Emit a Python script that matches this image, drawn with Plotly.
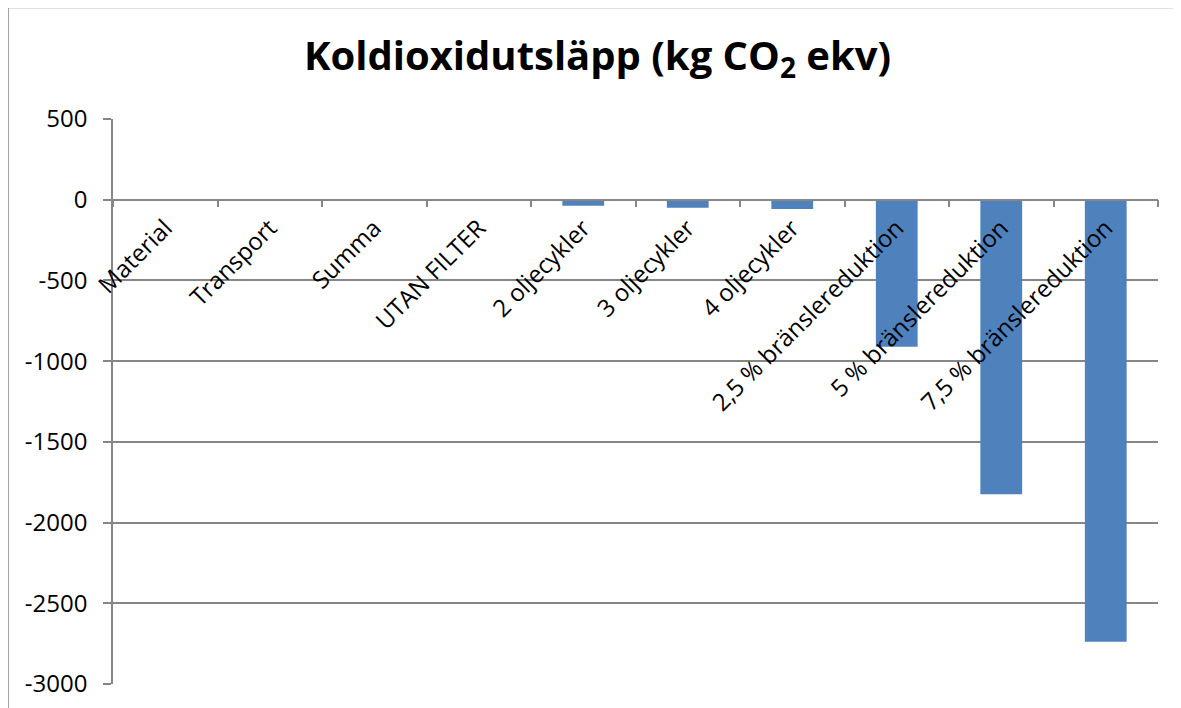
import plotly.graph_objects as go

categories = ["Material", "Transport", "Summa", "UTAN FILTER", "2 oljecykler",
              "3 oljecykler", "4 oljecykler", "2,5 % bränslereduktion",
              "5 % bränslereduktion", "7,5 % bränslereduktion"]
values = [0, 0, 0, 0, -37, -50, -58, -911, -1825, -2738]
y_ticks = [500, 0, -500, -1000, -1500, -2000, -2500, -3000]

W, H = 1181, 708
# page body has an 8px offset, so margins are given in figure coordinates
L, R, T, B = 105, 31, 111, 32
ymin, ymax = -3000, 500
zero_pos = (0 - ymin) / (ymax - ymin)

fig = go.Figure(go.Bar(x=categories, y=values, marker=dict(color="#4F81BD", line=dict(width=0)),
                       width=0.4))

fig.update_layout(
    width=W, height=H,
    margin=dict(l=L, r=R, t=T, b=B, autoexpand=False),
    paper_bgcolor="white", plot_bgcolor="white",
    showlegend=False,
    title=dict(text="<b>Koldioxidutsläpp (kg CO<sub>2</sub> ekv)</b>",
               x=589.5 / W, xref="container", xanchor="center",
               y=1 - 48 / H, yref="container", yanchor="middle",
               font=dict(family="Open Sans", size=40, color="black")),
    font=dict(family="Open Sans", color="black"),
    bargap=0.6,
)

fig.update_xaxes(
    type="category", anchor="free", position=zero_pos, automargin=False,
    showline=True, linecolor="#868686", linewidth=1.5,
    ticks="outside", ticklen=7, tickcolor="#868686", tickwidth=1.5,
    tickson="boundaries", showgrid=False, tickangle=-45,
    ticklabelstandoff=4,
    tickfont=dict(family="Open Sans", size=24, color="black"),
)
fig.update_yaxes(
    range=[ymin, ymax], tickvals=y_ticks, ticktext=[str(v) for v in y_ticks],
    automargin=False,
    showline=True, linecolor="#868686", linewidth=1.5,
    ticks="outside", ticklen=8, tickcolor="#868686", tickwidth=1.5,
    ticklabelstandoff=11,
    showgrid=True, gridcolor="#868686", gridwidth=1.5, zeroline=False,
    tickfont=dict(family="Open Sans", size=24, color="black"),
)

# outer chart-area border (at the figure edge, open to the right and bottom)
pw = W - L - R
ph = H - T - B
fig.add_shape(type="rect", xref="paper", yref="paper",
              x0=(0 - L) / pw, x1=(W + 20 - L) / pw,
              y0=(H - B - (H + 20)) / ph, y1=(H - B + 0.5) / ph,
              line=dict(color="#868686", width=1.5), fillcolor="rgba(0,0,0,0)",
              layer="below")

fig.write_html("out.html")
